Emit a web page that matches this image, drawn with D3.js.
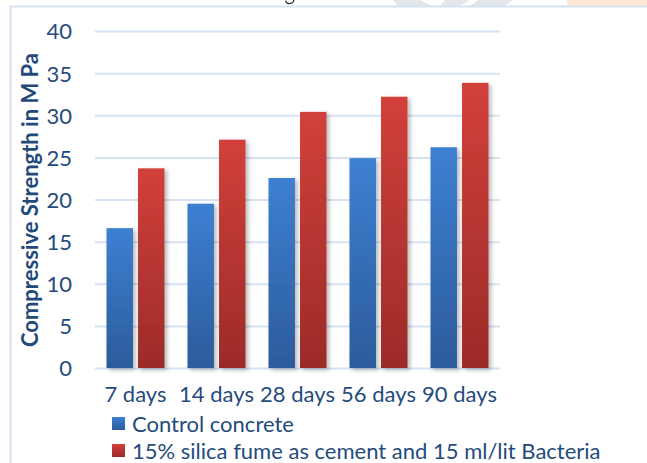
<!DOCTYPE html>
<html>
<head>
<meta charset="utf-8">
<script src="https://cdn.jsdelivr.net/npm/d3@7"></script>
<style>
  html, body { margin: 0; padding: 0; background: #fff; }
  svg { display: block; }
</style>
</head>
<body>
<svg id="chart" width="647" height="463"></svg>
<script>
// Compressive strength of concrete at different curing ages
const categories = ["7 days", "14 days", "28 days", "56 days", "90 days"];
const seriesNames = ["Control concrete", "15% silica fume as cement and 15 ml/lit Bacteria"];
const controlValues = [16.6, 19.5, 22.55, 24.9, 26.2];
const silicaBacteriaValues = [23.7, 27.1, 30.4, 32.2, 33.85];
const yTicks = [0, 5, 10, 15, 20, 25, 30, 35, 40];
const yTitle = "Compressive Strength in M Pa";

const seriesValues = [controlValues, silicaBacteriaValues];
const seriesGradients = [
  { id: "gradBlue", top: "#3d80d2", bottom: "#2c5b9b" },
  { id: "gradRed", top: "#d2403b", bottom: "#9b2b28" }
];

const svg = d3.select("#chart");
const fontFamily = "Lato, 'Open Sans', sans-serif";
const textColor = "#254b7c";

const defs = svg.append("defs");
seriesGradients.forEach(g => {
  const lg = defs.append("linearGradient")
    .attr("id", g.id).attr("x1", 0).attr("y1", 0).attr("x2", 0).attr("y2", 1);
  lg.append("stop").attr("offset", "0%").attr("stop-color", g.top);
  lg.append("stop").attr("offset", "100%").attr("stop-color", g.bottom);
});
const shadow = defs.append("filter").attr("id", "barShadow")
  .attr("x", "-30%").attr("y", "-10%").attr("width", "170%").attr("height", "130%");
shadow.append("feDropShadow")
  .attr("dx", 2.5).attr("dy", 2).attr("stdDeviation", 2)
  .attr("flood-color", "#000").attr("flood-opacity", 0.28);

// Page fragments around the chart frame
const pageStrip = svg.append("g");
pageStrip.append("path")
  .attr("d", "M393,0 L420,0 L432,6 L398,6 Z M445,0 L470,0 L460,6 L440,6 Z M478,0 L513,0 L505,6 L470,6 Z")
  .attr("fill", "#e3e7ea");
pageStrip.append("rect").attr("x", 567).attr("y", 0).attr("width", 80).attr("height", 6)
  .attr("fill", "#fde9d6");
pageStrip.append("path")
  .attr("d", "M286,0.5 C285,4.5 293,5 294,0")
  .attr("fill", "none").attr("stroke", "#222").attr("stroke-width", 1.2);

// Chart frame
svg.append("path")
  .attr("d", "M10.5,463 L10.5,6.5 L647,6.5")
  .attr("fill", "none").attr("stroke", "#d5e2f2").attr("stroke-width", 2);

// Scales
const y = d3.scaleLinear().domain([0, 40]).range([368, 31]);
const x0 = d3.scaleBand().domain(categories).range([95, 500]).padding(0);
const x1 = d3.scaleBand().domain(d3.range(seriesNames.length))
  .range([11.5, x0.bandwidth() - 11.5]).paddingInner(0.16);

// Gridlines
svg.append("g")
  .selectAll("line").data(yTicks).join("line")
  .attr("x1", 95).attr("x2", 500)
  .attr("y1", d => y(d) + 0.5).attr("y2", d => y(d) + 0.5)
  .attr("stroke", "#d6e2f2").attr("stroke-width", 2);

// Y axis labels
const yAxis = svg.append("g").attr("transform", "translate(72,0)")
  .call(d3.axisLeft(y).tickValues(yTicks).tickSize(0).tickPadding(0));
yAxis.select(".domain").remove();
yAxis.selectAll("text")
  .attr("font-family", fontFamily).attr("font-size", 22)
  .attr("fill", textColor).attr("dy", "0.36em");

// Y axis title
svg.append("text")
  .attr("transform", "translate(38,200) rotate(-90)")
  .attr("text-anchor", "middle")
  .attr("font-family", fontFamily).attr("font-weight", "bold").attr("font-size", 22)
  .attr("fill", "#1f4a7a").text(yTitle);

// Bars
const groups = svg.append("g").selectAll("g").data(categories).join("g")
  .attr("transform", d => `translate(${x0(d)},0)`);
groups.selectAll("rect")
  .data((c, i) => seriesValues.map((vals, s) => ({ s, v: vals[i] })))
  .join("rect")
  .attr("x", d => x1(d.s))
  .attr("y", d => y(d.v))
  .attr("width", x1.bandwidth())
  .attr("height", d => y(0) - y(d.v))
  .attr("fill", d => `url(#${seriesGradients[d.s].id})`)
  .attr("filter", "url(#barShadow)");

// X axis labels
const xAxis = svg.append("g").attr("transform", "translate(0,380)")
  .call(d3.axisBottom(x0).tickSize(0).tickPadding(0));
xAxis.select(".domain").remove();
xAxis.selectAll("text")
  .attr("font-family", fontFamily).attr("font-size", 22)
  .attr("fill", textColor).attr("dy", "1.0em");

// Legend
const legend = svg.append("g").selectAll("g").data(seriesNames).join("g")
  .attr("transform", (d, i) => `translate(112,${417 + i * 27})`);
legend.append("rect")
  .attr("width", 13).attr("height", 13)
  .attr("fill", (d, i) => `url(#${seriesGradients[i].id})`);
legend.append("text")
  .attr("x", 20).attr("y", 15)
  .attr("font-family", fontFamily).attr("font-size", 22)
  .attr("fill", textColor).text(d => d);
</script>
</body>
</html>
